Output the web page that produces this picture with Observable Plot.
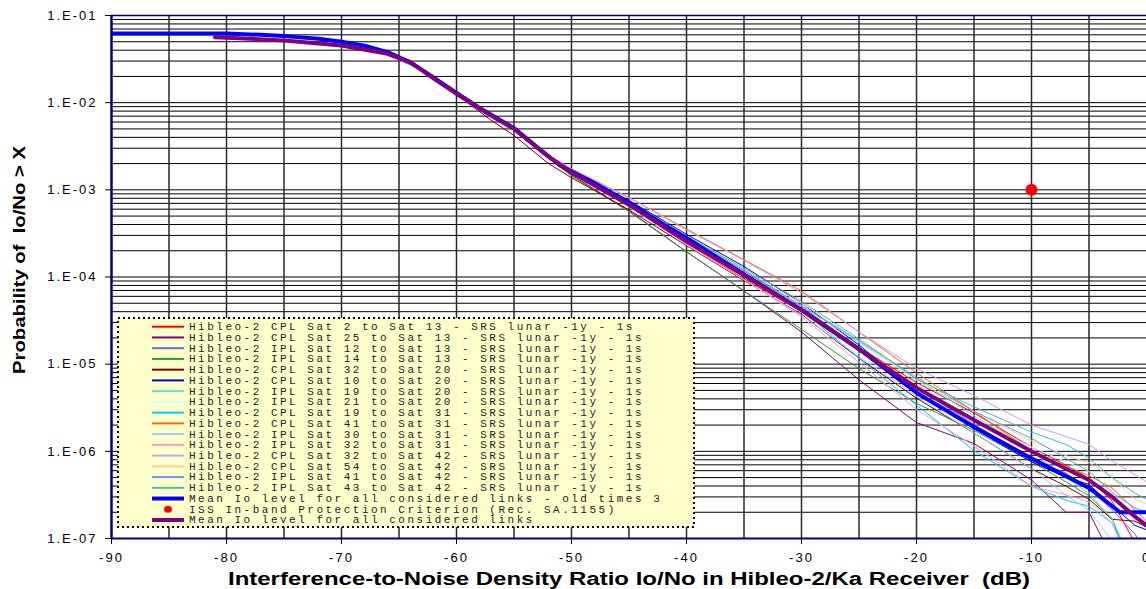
<!DOCTYPE html>
<html><head><meta charset="utf-8">
<script src="https://cdn.jsdelivr.net/npm/d3@7"></script>
<script src="https://cdn.jsdelivr.net/npm/@observablehq/plot@0.6"></script>
<style>
html,body{margin:0;padding:0;background:#fff;}
#chart{width:1146px;height:589px;overflow:hidden;}
</style></head><body><div id="chart"></div>
<script>
// ---------- DATA ----------
const xThin = [-81,-75,-70,-66,-63,-60,-57,-55,-52,-50,-45,-40,-35,-30,-25,-20,-15,-10,-7,-5,-3,-1,0];

const sCpl2to13  = [0.056,0.052,0.045,0.036,0.0235,0.0126,0.0071,0.0050,0.0024, 1.58e-3,6.46e-4,2.40e-4,9.55e-5,3.98e-5,1.55e-5,6.17e-6,2.75e-6,1.12e-6,6.92e-7,4.90e-7,2.69e-7,8.9e-8,5e-8];
const sCpl25to13 = [0.056,0.052,0.045,0.036,0.0235,0.0125,0.0070,0.0049,0.0023, 1.48e-3,5.75e-4,1.95e-4,6.92e-5,2.34e-5,6.61e-6,2.14e-6,1.23e-6,4.68e-7,2.0e-7,2.0e-7,6.0e-8,3.5e-8,2.8e-8];
const sIpl12to13 = [0.056,0.052,0.045,0.036,0.0235,0.0126,0.0071,0.0050,0.0024, 1.62e-3,7.08e-4,2.75e-4,1.17e-4,4.57e-5,1.55e-5,5.37e-6,2.04e-6,8.32e-7,5.62e-7,3.72e-7,2.14e-7,1.12e-7,7.1e-8];
const sIpl14to13 = [0.056,0.052,0.045,0.036,0.0235,0.0125,0.0070,0.0049,0.0023, 1.45e-3,5.62e-4,1.95e-4,6.92e-5,2.51e-5,8.91e-6,3.55e-6,1.74e-6,7.59e-7,4.47e-7,3.09e-7,1.70e-7,3.5e-8,2.8e-8];
const sCpl32to20 = [0.056,0.052,0.045,0.036,0.0235,0.0124,0.0063,0.0042,0.0020, 1.38e-3,5.89e-4,2.29e-4,9.12e-5,3.72e-5,1.17e-5,4.07e-6,1.62e-6,6.31e-7,3.98e-7,2.82e-7,1.66e-7,1.58e-7,1.35e-7];
const sCpl10to20 = [0.056,0.052,0.045,0.036,0.0235,0.0127,0.0072,0.0051,0.0025, 1.66e-3,7.59e-4,3.09e-4,1.32e-4,5.01e-5,1.66e-5,4.79e-6,1.82e-6,7.59e-7,5.01e-7,4.17e-7,2.40e-7,1.41e-7,1.26e-7];
const sIpl19to20 = [0.056,0.052,0.045,0.036,0.0235,0.0126,0.0071,0.0050,0.0024, 1.62e-3,7.08e-4,2.57e-4,1.10e-4,4.68e-5,1.78e-5,6.76e-6,2.57e-6,1.0e-6,5.01e-7,3.31e-7,1.70e-7,4.5e-8,3.5e-8];
const sIpl21to20 = [0.056,0.052,0.045,0.036,0.0235,0.0126,0.0071,0.0050,0.0024, 1.58e-3,6.92e-4,2.69e-4,1.05e-4,3.89e-5,1.32e-5,5.13e-6,2.29e-6,1.12e-6,7.59e-7,5.89e-7,3.39e-7,1.78e-7,1.41e-7];
const sCpl19to31 = [0.056,0.052,0.045,0.036,0.0235,0.0127,0.0073,0.0053,0.0025, 1.58e-3,6.76e-4,2.69e-4,1.12e-4,4.17e-5,1.17e-5,3.39e-6,1.02e-6,3.98e-7,2.75e-7,2.34e-7,1.51e-7,4.5e-8,3.5e-8];
const sCpl41to31 = [0.056,0.052,0.045,0.036,0.0235,0.0127,0.0072,0.0051,0.0025, 1.74e-3,8.13e-4,3.55e-4,1.58e-4,6.92e-5,2.34e-5,7.94e-6,2.88e-6,1.0e-6,6.76e-7,5.25e-7,3.80e-7,2.14e-7,1.58e-7];
const sIpl30to31 = [0.056,0.052,0.045,0.036,0.0235,0.0126,0.0071,0.0050,0.0024, 1.58e-3,6.46e-4,2.34e-4,9.33e-5,3.63e-5,1.23e-5,4.27e-6,1.62e-6,6.31e-7,3.16e-7,2.09e-7,9.5e-8,3.5e-8,2.8e-8];
const sIpl32to31 = [0.056,0.052,0.045,0.036,0.0235,0.0126,0.0071,0.0050,0.0024, 1.58e-3,6.46e-4,2.40e-4,9.33e-5,3.47e-5,1.05e-5,3.02e-6,1.15e-6,3.98e-7,3.16e-7,2.63e-7,1.51e-7,3.5e-8,2.8e-8];
const sCpl32to42 = [0.056,0.052,0.045,0.036,0.0235,0.0127,0.0072,0.0051,0.0025, 1.74e-3,8.13e-4,3.47e-4,1.55e-4,6.61e-5,2.34e-5,8.91e-6,4.37e-6,2.0e-6,1.48e-6,1.20e-6,7.76e-7,5.37e-7,4.47e-7];
const sCpl54to42 = [0.056,0.052,0.045,0.036,0.0235,0.0126,0.0071,0.0050,0.0024, 1.58e-3,7.08e-4,2.88e-4,1.20e-4,5.01e-5,1.86e-5,6.46e-6,2.88e-6,1.32e-6,8.91e-7,7.41e-7,5.01e-7,2.82e-7,2.51e-7];
const sIpl41to42 = [0.056,0.052,0.045,0.036,0.0235,0.0126,0.0071,0.0050,0.0024, 1.66e-3,7.24e-4,2.88e-4,1.20e-4,4.68e-5,1.86e-5,7.08e-6,2.88e-6,1.41e-6,8.32e-7,5.89e-7,3.39e-7,2.24e-7,2.0e-7];
const sIpl43to42 = [0.056,0.052,0.045,0.036,0.0235,0.0126,0.0071,0.0050,0.0024, 1.66e-3,7.41e-4,2.95e-4,1.26e-4,5.25e-5,1.95e-5,6.76e-6,3.24e-6,1.66e-6,1.20e-6,8.32e-7,5.01e-7,3.31e-7,2.82e-7];

const xMeanOld = [-90,-85,-80,-77,-75,-72,-70,-68,-66,-64,-62,-60,-58,-55,-53,-51,-48,-45,-42,-40,-35,-30,-25,-20,-15,-10,-5,-2.3,0];
const meanOldTimes3 = [0.062,0.062,0.062,0.060,0.058,0.054,0.050,0.045,0.038,0.029,0.0195,0.0129,0.0087,0.0051,0.0031,0.0019,0.0012,7.1e-4,4.0e-4,2.8e-4,1.07e-4,4.2e-5,1.5e-5,4.7e-6,1.9e-6,8.3e-7,3.8e-7,2.0e-7,2.0e-7];

const xMean = [-81,-75,-70,-66,-64,-62,-60,-57,-55,-52,-50,-45,-40,-35,-30,-25,-20,-15,-10,-7,-5,-3,-1,0];
const meanAll = [0.0564,0.0518,0.0453,0.0364,0.029,0.019,0.0126,0.0071,0.0050,0.0024,1.58e-3,6.76e-4,2.57e-4,1.05e-4,4.17e-5,1.48e-5,5.37e-6,2.29e-6,1.0e-6,6.31e-7,4.68e-7,3.02e-7,1.78e-7,1.41e-7];

const issCriterionX = [-10];
const issCriterionY = [1e-3];

const seriesNames = [
  "Hibleo-2 CPL Sat 2 to Sat 13 - SRS lunar -1y - 1s",
  "Hibleo-2 CPL Sat 25 to Sat 13 - SRS lunar -1y - 1s",
  "Hibleo-2 IPL Sat 12 to Sat 13 - SRS lunar -1y - 1s",
  "Hibleo-2 IPL Sat 14 to Sat 13 - SRS lunar -1y - 1s",
  "Hibleo-2 CPL Sat 32 to Sat 20 - SRS lunar -1y - 1s",
  "Hibleo-2 CPL Sat 10 to Sat 20 - SRS lunar -1y - 1s",
  "Hibleo-2 IPL Sat 19 to Sat 20 - SRS lunar -1y - 1s",
  "Hibleo-2 IPL Sat 21 to Sat 20 - SRS lunar -1y - 1s",
  "Hibleo-2 CPL Sat 19 to Sat 31 - SRS lunar -1y - 1s",
  "Hibleo-2 CPL Sat 41 to Sat 31 - SRS lunar -1y - 1s",
  "Hibleo-2 IPL Sat 30 to Sat 31 - SRS lunar -1y - 1s",
  "Hibleo-2 IPL Sat 32 to Sat 31 - SRS lunar -1y - 1s",
  "Hibleo-2 CPL Sat 32 to Sat 42 - SRS lunar -1y - 1s",
  "Hibleo-2 CPL Sat 54 to Sat 42 - SRS lunar -1y - 1s",
  "Hibleo-2 IPL Sat 41 to Sat 42 - SRS lunar -1y - 1s",
  "Hibleo-2 IPL Sat 43 to Sat 42 - SRS lunar -1y - 1s"
];
const meanOldName = "Mean Io level for all considered links - old times 3";
const issName = "ISS In-band Protection Criterion (Rec. SA.1155)";
const meanName = "Mean Io level for all considered links";

const xTicks = [-90,-80,-70,-60,-50,-40,-30,-20,-10,0];
const yTicks = [1e-1,1e-2,1e-3,1e-4,1e-5,1e-6,1e-7];
const yTickLabels = ["1.E-01","1.E-02","1.E-03","1.E-04","1.E-05","1.E-06","1.E-07"];
const xTitle = "Interference-to-Noise Density Ratio Io/No in Hibleo-2/Ka Receiver  (dB)";
const yTitle = "Probability of  Io/No > X";

// ---------- STYLE ----------
const thinValues = [sCpl2to13,sCpl25to13,sIpl12to13,sIpl14to13,sCpl32to20,sCpl10to20,sIpl19to20,sIpl21to20,
  sCpl19to31,sCpl41to31,sIpl30to31,sIpl32to31,sCpl32to42,sCpl54to42,sIpl41to42,sIpl43to42];
const thinColors = ["#FF0000","#800080","#6B6BE6","#339933","#800000","#0000CC","#66DDDD","#CCFFFF",
  "#00CCFF","#FF6600","#A6CAF0","#FF99CC","#CC99FF","#FFCC99","#6699FF","#40C0B0"];
const meanOldColor = "#0000FF", meanColor = "#800080", navy = "#000080";

// ---------- BUILD ----------
const toRows = (xs, ys) => xs.map((x, i) => ({x, y: ys[i]}));
const gridY = [];
for (let e = -7; e <= -2; e++) for (let m = 1; m <= 9; m++) { if (!(m === 1 && e === -7)) gridY.push(m * Math.pow(10, e)); }
const gridX = d3.range(-85, 0, 5);

const marks = [
  Plot.ruleY(gridY, {stroke: "#000", strokeWidth: 1}),
  Plot.ruleX(gridX, {stroke: "#2a2a2a", strokeWidth: 1.5}),
  ...thinValues.map((vals, i) => Plot.line(toRows(xThin, vals), {x: "x", y: "y", stroke: thinColors[i], strokeWidth: 1, clip: true})),
  Plot.line(toRows(xMeanOld, meanOldTimes3), {x: "x", y: "y", stroke: meanOldColor, strokeWidth: 4, clip: true}),
  Plot.line(toRows(xMean, meanAll), {x: "x", y: "y", stroke: meanColor, strokeWidth: 4, clip: true}),
  Plot.dot(toRows(issCriterionX, issCriterionY), {x: "x", y: "y", r: 6, fill: "#FF0000", stroke: "none"}),
  Plot.ruleY([1e-1], {stroke: navy, strokeWidth: 1.5}),
  Plot.ruleY([1e-7], {stroke: navy, strokeWidth: 2}),
  Plot.ruleX([-90], {stroke: navy, strokeWidth: 2.5}),
  Plot.axisY({ticks: yTicks, tickFormat: d => yTickLabels[yTicks.indexOf(d)], tickSize: 6, tickPadding: 8, label: null, stroke: "#000"}),
  Plot.axisX({ticks: xTicks, tickFormat: d => String(d), tickSize: 6, tickPadding: 8, label: null, stroke: "#000"})
];

const svg = Plot.plot({
  width: 1146, height: 589,
  marginLeft: 111, marginRight: 0, marginTop: 15, marginBottom: 51,
  style: {fontFamily: "'Liberation Sans', Arial, sans-serif", fontSize: "13px", background: "#fff", color: "#000", overflow: "visible"},
  x: {domain: [-90, 0]},
  y: {type: "log", domain: [1e-7, 1e-1]},
  marks
});
document.getElementById("chart").appendChild(svg);

const s = d3.select(svg);
s.selectAll('[aria-label="y-axis tick label"], [aria-label="x-axis tick label"]').style("letter-spacing", "2px");

// axis titles
s.append("text").text(xTitle)
  .attr("x", 629).attr("y", 585).attr("text-anchor", "middle")
  .attr("font-family", "'Liberation Sans', Arial, sans-serif").attr("font-weight", "bold").attr("font-size", 18)
  .attr("textLength", 802).attr("lengthAdjust", "spacingAndGlyphs").style("white-space", "pre").attr("fill", "#000");
s.append("text").text(yTitle)
  .attr("transform", "translate(25,260) rotate(-90)").attr("text-anchor", "middle")
  .attr("font-family", "'Liberation Sans', Arial, sans-serif").attr("font-weight", "bold").attr("font-size", 17)
  .attr("textLength", 228).attr("lengthAdjust", "spacingAndGlyphs").style("white-space", "pre").attr("fill", "#000");

// legend
const lg = s.append("g").attr("text-anchor", "start");
lg.append("rect").attr("x", 118).attr("y", 318).attr("width", 576).attr("height", 209)
  .attr("fill", "#FFFFCC").attr("stroke", "#000").attr("stroke-width", 2).attr("stroke-dasharray", "2,3");
const rowY = i => 326.7 + i * 10.74;
const items = seriesNames.map((n, i) => ({name: n, color: thinColors[i], kind: "line", w: 2}));
items.push({name: meanOldName, color: meanOldColor, kind: "line", w: 4});
items.push({name: issName, color: "#FF0000", kind: "dot"});
items.push({name: meanName, color: meanColor, kind: "line", w: 4});
items.forEach((it, i) => {
  const y = rowY(i);
  if (it.kind === "line") {
    lg.append("line").attr("x1", 152).attr("x2", 184).attr("y1", y).attr("y2", y)
      .attr("stroke", it.color).attr("stroke-width", it.w);
  } else {
    lg.append("ellipse").attr("cx", 168).attr("cy", y).attr("rx", 4).attr("ry", 3.5).attr("fill", it.color);
  }
  lg.append("text").text(it.name).attr("x", 189).attr("y", y + 3.4).attr("text-anchor", "start")
    .attr("font-family", "'Liberation Mono', 'Courier New', monospace").attr("font-size", 11)
    .style("letter-spacing", "2.5px").style("white-space", "pre").attr("fill", "#222");
});
</script></body></html>
